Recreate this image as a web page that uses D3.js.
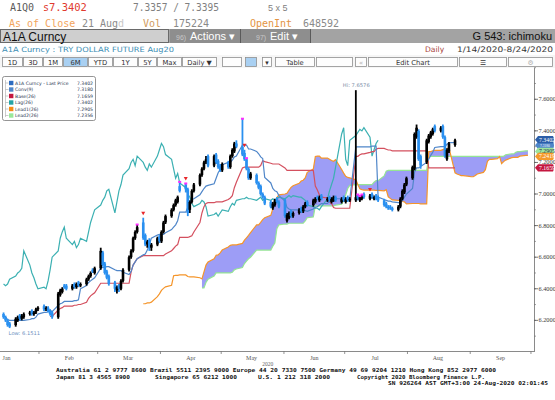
<!DOCTYPE html>
<html><head><meta charset="utf-8">
<script src="https://cdn.jsdelivr.net/npm/d3@7/dist/d3.min.js"></script>
<style>body{margin:0;background:#fff}svg{display:block}</style>
</head><body>
<svg id="c" width="555" height="400"></svg>
<script>
// ---------- DATA ----------
const startDate = "2020-01-14", endDate = "2020-08-24";
const openP = [6.24,6.22,6.20,6.18,6.17,6.20,6.23,6.21,6.22,6.24,6.26,6.24,6.25,6.27,
6.29,6.27,6.28,6.26,6.25,6.22,6.36,6.38,6.42,6.42,6.40,6.43,6.41,6.44,6.42,6.43,6.46,6.48,6.52,6.50,
6.53,6.63,6.56,6.51,6.48,6.44,6.39,6.42,6.40,6.45,6.52,6.60,6.64,6.72,6.76,6.82,6.74,6.68,6.71,6.66,6.68,6.73,
6.70,6.76,6.82,6.86,6.90,6.93,6.95,7.05,7.06,7.03,6.90,6.95,7.02,7.06,7.12,7.16,7.20,7.24,7.18,7.25,7.21,7.18,
7.15,7.20,7.17,7.24,7.27,7.32,7.30,7.26,7.22,7.16,7.10,7.12,7.07,7.05,7.00,6.98,6.95,6.91,6.93,6.97,6.95,
6.96,6.83,6.85,6.89,6.86,6.88,6.91,6.89,6.92,6.95,6.93,6.95,6.98,6.96,6.99,6.96,6.98,6.95,6.96,6.98,6.95,6.98,
6.95,6.98,6.96,6.96,6.99,6.96,6.97,7.00,6.97,7.00,6.97,6.99,6.98,6.96,6.94,6.92,6.92,6.91,6.90,6.92,6.97,7.01,7.06,
7.10,7.16,7.36,7.40,7.24,7.20,7.33,7.36,7.38,7.43,7.40,7.43,7.36,7.22,7.27,7.31];
const highP = [6.25,6.23,6.21,6.19,6.22,6.23,6.24,6.24,6.25,6.26,6.27,6.26,6.28,6.29,
6.30,6.29,6.29,6.27,6.26,6.38,6.40,6.41,6.43,6.43,6.43,6.44,6.44,6.45,6.44,6.47,6.49,6.51,6.53,6.54,
6.66,6.64,6.57,6.52,6.49,6.45,6.42,6.43,6.46,6.53,6.61,6.65,6.73,6.77,6.81,6.85,6.75,6.71,6.72,6.69,6.73,6.74,
6.77,6.83,6.87,6.91,6.94,6.97,6.99,7.08,7.07,7.04,6.96,7.03,7.07,7.13,7.17,7.21,7.24,7.25,7.25,7.26,7.22,7.19,
7.20,7.21,7.25,7.29,7.33,7.34,7.48,7.28,7.23,7.17,7.14,7.13,7.08,7.06,7.01,6.99,6.96,6.95,6.97,6.98,6.96,
6.97,6.88,6.89,6.90,6.89,6.91,6.92,6.93,6.95,6.96,6.97,6.98,6.99,6.99,7.00,6.98,6.99,6.98,6.99,6.99,6.98,6.99,
6.98,6.99,6.98,7.6576,7.00,6.99,7.00,7.01,7.00,7.01,6.99,7.00,6.99,6.97,6.95,6.93,6.93,6.92,6.93,6.98,7.03,7.07,7.11,
7.18,7.39,7.44,7.41,7.25,7.35,7.38,7.40,7.42,7.44,7.43,7.44,7.37,7.29,7.33,7.35];
const lowP = [6.21,6.19,6.16,6.1511,6.16,6.19,6.20,6.20,6.21,6.23,6.23,6.23,6.24,6.26,
6.26,6.26,6.25,6.23,6.21,6.21,6.35,6.37,6.40,6.39,6.39,6.40,6.40,6.41,6.41,6.42,6.45,6.47,6.50,6.49,
6.52,6.54,6.49,6.46,6.42,6.38,6.37,6.38,6.39,6.44,6.51,6.59,6.63,6.71,6.75,6.71,6.67,6.66,6.64,6.64,6.67,6.69,
6.69,6.75,6.81,6.85,6.89,6.92,6.94,7.01,7.01,6.86,6.88,6.94,7.01,7.05,7.11,7.15,7.19,7.17,7.17,7.19,7.16,7.14,
7.14,7.16,7.16,7.23,7.26,7.29,7.24,7.21,7.15,7.09,7.09,7.06,7.03,6.99,6.97,6.93,6.91,6.90,6.92,6.94,6.91,
6.85,6.82,6.84,6.85,6.85,6.87,6.88,6.88,6.91,6.92,6.92,6.94,6.96,6.95,6.96,6.95,6.95,6.94,6.95,6.95,6.94,6.95,
6.94,6.95,6.95,6.95,6.96,6.95,6.96,6.97,6.96,6.97,6.96,6.96,6.95,6.92,6.91,6.90,6.90,6.89,6.89,6.91,6.96,7.00,7.05,
7.09,7.15,7.35,7.21,7.16,7.19,7.32,7.35,7.37,7.39,7.39,7.35,7.23,7.21,7.26,7.30];
const closeP = [6.22,6.20,6.17,6.16,6.21,6.22,6.21,6.23,6.24,6.25,6.24,6.25,6.27,6.28,
6.27,6.28,6.26,6.24,6.22,6.37,6.39,6.40,6.41,6.40,6.42,6.41,6.43,6.42,6.43,6.46,6.48,6.50,6.51,6.53,
6.64,6.55,6.50,6.47,6.43,6.40,6.41,6.40,6.45,6.52,6.60,6.64,6.72,6.76,6.79,6.72,6.68,6.70,6.66,6.68,6.72,6.70,
6.76,6.82,6.86,6.90,6.93,6.96,6.98,7.02,7.03,6.88,6.95,7.02,7.06,7.12,7.16,7.20,7.22,7.18,7.24,7.20,7.17,7.15,
7.19,7.17,7.24,7.28,7.32,7.30,7.25,7.22,7.16,7.10,7.13,7.07,7.04,7.00,6.98,6.94,6.92,6.94,6.96,6.95,6.92,
6.86,6.87,6.88,6.86,6.88,6.90,6.89,6.92,6.94,6.93,6.96,6.97,6.97,6.98,6.97,6.97,6.96,6.97,6.98,6.96,6.97,6.96,
6.97,6.96,6.97,6.98,6.97,6.98,6.99,6.98,6.99,6.98,6.98,6.97,6.96,6.93,6.92,6.91,6.91,6.90,6.92,6.97,7.02,7.06,7.10,
7.17,7.38,7.42,7.22,7.18,7.34,7.37,7.39,7.41,7.40,7.42,7.36,7.24,7.28,7.32,7.3402];

const legendNames  = ["A1A Curncy - Last Price","Conv(9)","Base(26)","Lag(26)","Lead1(26)","Lead2(26)"];
const legendValues = ["7.3402","7.3180","7.1659","7.3402","7.2905","7.2356"];
const yTickValues  = [6.2,6.4,6.6,6.8,7.0,7.2,7.4,7.6];
const monthNames   = ["Jan","Feb","Mar","Apr","May","Jun","Jul","Aug","Sep"];
const signalIdx    = [49,64,85,129];           // red down-triangles
const magentaIdx   = [48,63,64,84,86,125,126,127];
const tagValues    = [7.3402,7.2700,7.2380,7.1659];
const tagLabels    = ["7.3402","7.2905","7.2419","7.1659"];
const convTag      = {v:7.3180,label:"7.3180"};
const footerLines  = [
  ["Australia 61 2 9777 8600 Brazil 5511 2395 9000 Europe 44 20 7330 7500 Germany 49 69 9204 1210 Hong Kong 852 2977 6000"],
  ["Japan 81 3 4565 8900","Singapore 65 6212 1000","U.S. 1 212 318 2000","Copyright 2020 Bloomberg Finance L.P."],
  ["SN 926264 AST  GMT+3:00 24-Aug-2020 02:01:45"]];
const periods = {conv:9, base:26, spanB:52, shift:26};

// ---------- helpers ----------
function tradingDays(s,e){const out=[];let d=new Date(s+"T12:00:00");const E=new Date(e+"T12:00:00");
  while(d<=E){const w=d.getDay();if(w!==0&&w!==6)out.push(new Date(d));d=new Date(d.getTime()+864e5);}return out;}
function addTradingDays(last,n){const out=[];let d=new Date(last);while(out.length<n){d=new Date(d.getTime()+864e5);const w=d.getDay();if(w!==0&&w!==6)out.push(new Date(d));}return out;}
const dates = tradingDays(startDate,endDate);
const future = addTradingDays(dates[dates.length-1], periods.shift);
const allDates = dates.concat(future);
const N = closeP.length;
function mid(i,p){const a=Math.max(0,i-p+1);let hi=-1e9,lo=1e9;for(let k=a;k<=i;k++){hi=Math.max(hi,highP[k]);lo=Math.min(lo,lowP[k]);}return (hi+lo)/2;}
const conv=[],base=[],spanB=[];
for(let i=0;i<N;i++){conv.push(mid(i,periods.conv));base.push(mid(i,periods.base));spanB.push(mid(i,periods.spanB));}

// ---------- layout ----------
const svg=d3.select("#c");
const FONT_MONO="DejaVu Sans Mono", FONT_SANS="Liberation Sans", FONT_SERIF="Liberation Serif";
const plot={l:0,r:534,t:68,b:351};
const x=d3.scaleTime().domain([new Date(2020,0,12,18),new Date(2020,9,2,12)]).range([plot.l,plot.r]);
const y=d3.scaleLinear().domain([6.006,7.798]).range([plot.b,plot.t]);

svg.append("rect").attr("width",555).attr("height",400).attr("fill","#ffffff");

// ----- header -----
const hdr=svg.append("g");
function t(g,xx,yy,s,opt){const e=g.append("text").attr("x",xx).attr("y",yy).text(s)
  .attr("font-family",opt.f||FONT_MONO).attr("font-size",opt.s||10).attr("fill",opt.c||"#333");
  if(opt.a)e.attr("text-anchor",opt.a); if(opt.w)e.attr("font-weight",opt.w); if(opt.tl)e.attr("textLength",opt.tl).attr("lengthAdjust","spacingAndGlyphs"); return e;}
t(hdr,10,11,"A1Q0",{c:"#5a5a5a",s:10});
t(hdr,43,11,"s",{c:"#e03a2e",s:10});
t(hdr,49,11,"7.3402",{c:"#e03a2e",s:10.5});
t(hdr,133,11,"7.3357 / 7.3395",{c:"#808080",s:10,tl:86});
t(hdr,268,11,"5 x 5",{c:"#808080",s:9,f:FONT_SANS});
t(hdr,9,27,"As of Close",{c:"#f2a45c",s:10});
t(hdr,82,27,"21 Aug",{c:"#8a8a8a",s:10});
t(hdr,118,27,"d",{c:"#c8c8c8",s:10});
t(hdr,143,27,"Vol",{c:"#d09a5c",s:10});
t(hdr,173,27,"175224",{c:"#8a8a8a",s:10});
t(hdr,250,27,"OpenInt",{c:"#e39443",s:10});
t(hdr,303,27,"648592",{c:"#8a8a8a",s:10});
hdr.append("rect").attr("x",0).attr("y",29).attr("width",555).attr("height",14).attr("fill","#a3a3a3");
hdr.append("rect").attr("x",0.5).attr("y",29.5).attr("width",168).attr("height",13).attr("fill","#cfcfcf").attr("stroke","#6a6a6a");
t(hdr,3,40.5,"A1A Curncy",{f:FONT_SANS,s:12,c:"#111"});
hdr.append("rect").attr("x",170).attr("y",29).attr("width",70).attr("height",14).attr("fill","#8e8e8e");
t(hdr,176,39.5,"96)",{f:FONT_SANS,s:7,c:"#c8c8c8"});
t(hdr,190,40,"Actions \u25BE",{f:FONT_SANS,s:11,c:"#fff"});
hdr.append("rect").attr("x",241).attr("y",29).attr("width",69).attr("height",14).attr("fill","#8e8e8e");
hdr.append("line").attr("x1",240.5).attr("x2",240.5).attr("y1",29).attr("y2",43).attr("stroke","#5a5a5a");
hdr.append("line").attr("x1",310.5).attr("x2",310.5).attr("y1",29).attr("y2",43).attr("stroke","#5a5a5a");
t(hdr,256,39.5,"97)",{f:FONT_SANS,s:7,c:"#c8c8c8"});
t(hdr,270,40,"Edit \u25BE",{f:FONT_SANS,s:11,c:"#fff"});
t(hdr,552,40,"G 543: ichimoku",{f:FONT_SANS,s:11,c:"#111",a:"end"});
t(hdr,2,52,"A1A Curncy : TRY DOLLAR FUTURE Aug20",{f:"DejaVu Sans",s:7.2,c:"#3b8db4",tl:172});
t(hdr,425,52,"Daily",{f:"DejaVu Sans",s:7.6,c:"#a8443a"});
t(hdr,553,52,"1/14/2020-8/24/2020",{f:"DejaVu Sans",s:7.6,c:"#333",a:"end",tl:96});
const buttons=[{x:2,w:21,l:"1D"},{x:23,w:20,l:"3D"},{x:43,w:20,l:"1M"},{x:63,w:25,l:"6M",h:1},{x:88,w:25,l:"YTD"},
{x:113,w:25,l:"1Y"},{x:138,w:19,l:"5Y"},{x:157,w:25,l:"Max"},{x:182,w:35,l:"Daily \u25BC"},{x:222,w:20,l:""},{x:245,w:12,l:"",h:1},
{x:262,w:10,l:"\u25BE"},{x:275,w:40,l:"Table"},{x:316,w:37,l:""},{x:355,w:12,l:"\u00AB",g:1},{x:368,w:90,l:"Edit Chart"},{x:459,w:48,l:"\u2630"},{x:508,w:45,l:"\u2699",g:1}];
const bg=hdr.append("g");
bg.append("rect").attr("x",0).attr("y",55).attr("width",555).attr("height",13).attr("fill","#f6f6f6");
buttons.forEach(b=>{
  bg.append("rect").attr("x",b.x+0.5).attr("y",57.5).attr("width",b.w-1).attr("height",9).attr("fill",b.h?"#a9d0f2":"#fdfdfd").attr("stroke","#8f8f8f").attr("stroke-width",0.8);
  if(b.l) t(bg,b.x+b.w/2,65,b.l,{f:"DejaVu Sans",s:6.8,c:b.g?"#b0b0b0":"#333",a:"middle"});
});

// ----- plot area -----
svg.append("clipPath").attr("id","pc").append("rect").attr("x",plot.l).attr("y",plot.t).attr("width",plot.r-plot.l).attr("height",plot.b-plot.t);
const P=svg.append("g").attr("clip-path","url(#pc)");

const leadPts=[];
for(let i=0;i<N;i++){leadPts.push({d:allDates[i+periods.shift],l1:(conv[i]+base[i])/2,l2:spanB[i],i});}
const l1Start=23, l2Start=44, baseStart=17;
const cloudPts=leadPts.filter(p=>p.i>=l2Start);
P.append("path").datum(cloudPts).attr("fill","#9d9df6")
  .attr("d",d3.area().x(p=>x(p.d)).y0(p=>y(p.l2)).y1(p=>y(p.l1)));
const lineGen=(acc)=>d3.line().x(p=>x(p.d)).y(acc);
P.append("path").datum(cloudPts).attr("fill","none").attr("stroke","#95e495").attr("stroke-width",1.2).attr("d",lineGen(p=>y(p.l2)));
P.append("path").datum(leadPts.filter(p=>p.i>=l1Start)).attr("fill","none").attr("stroke","#f5952a").attr("stroke-width",1.2).attr("d",lineGen(p=>y(p.l1)));
const lagPts=[];for(let i=periods.shift;i<N;i++)lagPts.push({d:dates[i-periods.shift],v:closeP[i]});
P.append("path").datum(lagPts).attr("fill","none").attr("stroke","#3bb0b2").attr("stroke-width",1.2).attr("d",lineGen(p=>y(p.v)));
const basePts=[];for(let i=baseStart;i<N;i++)basePts.push({d:dates[i],v:base[i]});
P.append("path").datum(basePts).attr("fill","none").attr("stroke","#d4505f").attr("stroke-width",1.2).attr("d",lineGen(p=>y(p.v)));
const convPts=[];for(let i=0;i<N;i++)convPts.push({d:dates[i],v:conv[i]});
P.append("path").datum(convPts).attr("fill","none").attr("stroke","#4f86c9").attr("stroke-width",1.2).attr("d",lineGen(p=>y(p.v)));

// candles
const cd=d3.range(N).map(i=>({d:dates[i],o:openP[i],h:highP[i],l:lowP[i],c:closeP[i]}));
const cg=P.append("g");
cg.selectAll("line").data(cd).join("line")
  .attr("x1",k=>x(k.d)).attr("x2",k=>x(k.d)).attr("y1",k=>y(k.h)).attr("y2",k=>y(k.l))
  .attr("stroke",k=>k.c>=k.o?"#000":"#2a90f0").attr("stroke-width",1.8);
cg.selectAll("rect").data(cd).join("rect")
  .attr("x",k=>x(k.d)-1.3).attr("width",2.6)
  .attr("y",k=>y(Math.max(k.o,k.c))).attr("height",k=>Math.max(1.2,Math.abs(y(k.o)-y(k.c))))
  .attr("fill",k=>k.c>=k.o?"#000":"#2a90f0");
cg.selectAll(".mg").data(magentaIdx).join("rect").attr("class","mg")
  .attr("x",i=>x(dates[i])-1.5).attr("y",i=>y(highP[i])-0.5).attr("width",3).attr("height",2).attr("fill","#ff2cff");
cg.selectAll(".sg").data(signalIdx).join("path").attr("class","sg")
  .attr("d",i=>{const cx=x(dates[i]),cy=y(highP[i])-4;return `M${cx-2},${cy-2}L${cx+2},${cy-2}L${cx},${cy+1.5}Z`;})
  .attr("fill","#e8262a");

const iHi=d3.maxIndex(highP), iLo=d3.minIndex(lowP);
t(svg,x(dates[iHi])-13,y(highP[iHi])-3,"Hi: "+highP[iHi].toFixed(4),{f:"DejaVu Sans",s:5.2,c:"#7d8fa8"});
t(svg,x(dates[iLo])-1,y(lowP[iLo])+7,"Low: "+lowP[iLo].toFixed(4),{f:"DejaVu Sans",s:5.2,c:"#6d8fc0"});

// axes
svg.append("line").attr("x1",plot.r+0.5).attr("x2",plot.r+0.5).attr("y1",plot.t).attr("y2",plot.b+1).attr("stroke","#8a8a8a");
svg.append("line").attr("x1",0).attr("x2",plot.r+1).attr("y1",plot.b+0.5).attr("y2",plot.b+0.5).attr("stroke","#8a8a8a");
const yAxis=svg.append("g");
d3.range(6.1,7.81,0.1).forEach(v=>{yAxis.append("line").attr("x1",plot.r).attr("x2",plot.r+2).attr("y1",y(v)).attr("y2",y(v)).attr("stroke","#777").attr("stroke-width",0.7);});
yTickValues.forEach(v=>{
  yAxis.append("line").attr("x1",plot.r).attr("x2",plot.r+4).attr("y1",y(v)).attr("y2",y(v)).attr("stroke","#555").attr("stroke-width",0.8);
  t(yAxis,plot.r+4.5,y(v)+2,v.toFixed(4),{f:FONT_SERIF,s:6.3,c:"#3a3a3a"});
});
const months=d3.timeMonth.range(new Date(2020,0,1),new Date(2020,9,2));
months.forEach(m=>{if(x(m)>0)svg.append("line").attr("x1",x(m)).attr("x2",x(m)).attr("y1",plot.b).attr("y2",plot.b+3).attr("stroke","#777").attr("stroke-width",0.8);});
monthNames.forEach((nm,i)=>{t(svg,x(new Date(2020,i,16)),360,nm,{f:FONT_SERIF,s:6,c:"#555",a:"middle"});});
t(svg,x(new Date(2020,4,24)),366,"2020",{f:FONT_SERIF,s:5.5,c:"#666",a:"middle"});

// price tags
function tagShape(g,yy,col){g.append("path").attr("d",`M${plot.r+1},${yy}L${plot.r+4},${yy-3.6}L${plot.r+19},${yy-3.6}Q${plot.r+21},${yy} ${plot.r+19},${yy+3.6}L${plot.r+4},${yy+3.6}Z`).attr("fill",col);}
{const g=svg.append("g"),yy=y(convTag.v)+1.5;tagShape(g,yy,"#4f86c9");
 t(g,plot.r+6,yy+1.5,convTag.label,{f:FONT_SERIF,s:3.5,c:"#fff"});}
const tagColors=[["#2c5ea8","#fff"],["#9de69d","#224"],["#f59a2a","#fff"],["#c4163f","#fff"]];
tagValues.forEach((v,i)=>{
  const yy=y(v)-(i===0?0.6:0),g=svg.append("g");
  tagShape(g,yy,tagColors[i][0]);
  t(g,plot.r+5,yy+2,tagLabels[i],{f:FONT_SERIF,s:5.8,c:tagColors[i][1]});
});

// legend
const lg=svg.append("g");
lg.append("rect").attr("x",2.5).attr("y",76.5).attr("width",93).attr("height",44).attr("rx",2).attr("fill","#fff").attr("stroke","#7a7a7a").attr("stroke-width",0.8);
lg.append("line").attr("x1",5.5).attr("x2",5.5).attr("y1",80).attr("y2",117).attr("stroke","#aaa").attr("stroke-width",0.6);
const legCols=["#2d6cc0","#4f86c9","#c4163f","#23a3a6","#f58b14","#9ae89a"];
legendNames.forEach((nm,i)=>{
  const yy=83+i*6.5;
  lg.append("line").attr("x1",5.5).attr("x2",8.5).attr("y1",yy).attr("y2",yy).attr("stroke","#aaa").attr("stroke-width",0.6);
  lg.append("rect").attr("x",9).attr("y",yy-2.2).attr("width",4.4).attr("height",4.4).attr("fill",legCols[i]);
  t(lg,15,yy+1.8,nm,{f:"DejaVu Sans",s:4.6,c:"#2a3550"});
  t(lg,93,yy+1.8,legendValues[i],{f:"DejaVu Sans",s:4.6,c:"#2a3550",a:"end"});
});

// footer
const ft=svg.append("g");
const fo={s:5.4,c:"#111",w:"bold"};
t(ft,56,372,footerLines[0][0],Object.assign({tl:440},fo));
t(ft,56,378.5,footerLines[1][0],Object.assign({tl:74},fo));
t(ft,155,378.5,footerLines[1][1],Object.assign({tl:82},fo));
t(ft,258,378.5,footerLines[1][2],Object.assign({tl:72},fo));
t(ft,357,378.5,footerLines[1][3],Object.assign({tl:128},fo));
t(ft,548,385,footerLines[2][0],Object.assign({a:"end",tl:160},fo));
</script>
</body></html>
